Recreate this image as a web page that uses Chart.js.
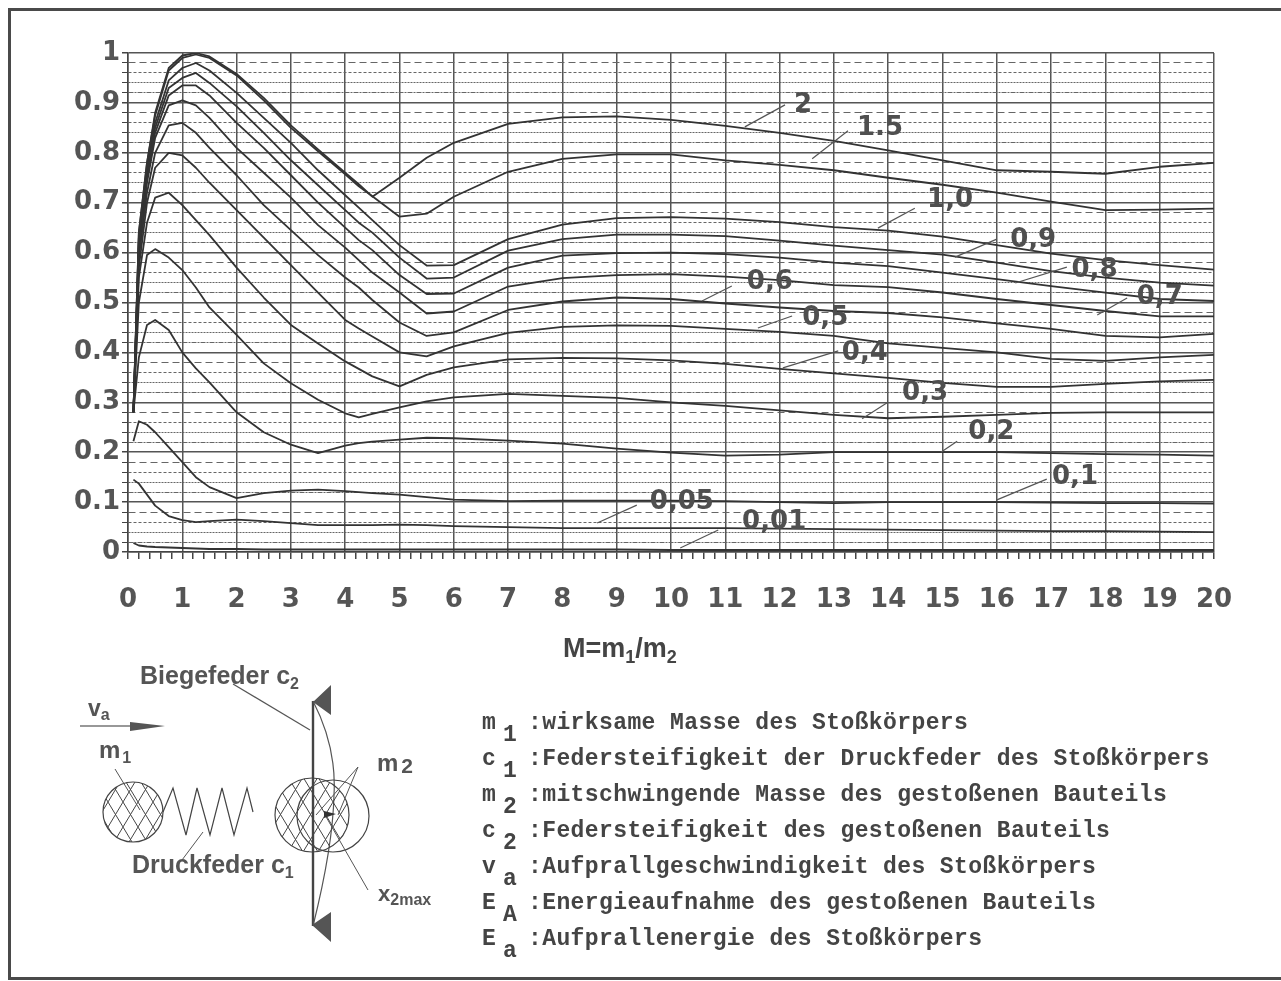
<!DOCTYPE html>
<html>
<head>
<meta charset="utf-8">
<script src="https://cdn.jsdelivr.net/npm/chart.js@4/dist/chart.umd.min.js"></script>
<style>
html, body { margin: 0; padding: 0; background: #fff; }
#page { position: relative; width: 1281px; height: 981px; overflow: hidden; }
#frame { position: absolute; left: 8px; top: 8px; width: 1290px; height: 972px; border: 3px solid #4a4a4a; box-sizing: border-box; }
#c { position: absolute; left: 0; top: 0; }
#sketch { position: absolute; left: 0; top: 0; }
#xtitle { position: absolute; left: 563px; top: 633px; font: bold 27px "Liberation Sans", Arial, sans-serif; color: #444; white-space: pre; }
#xtitle sub { font-size: 18px; vertical-align: -6px; line-height: 0; }
.row { position: absolute; font: bold 23px "Liberation Mono", monospace; letter-spacing: 0.4px; color: #444; white-space: pre; }
.row sub { position: absolute; left: 21px; top: 12px; font-size: 23px; }
.row span { position: absolute; left: 46px; top: 0; }
#sketch text { font-family: "Liberation Sans", Arial, sans-serif; font-weight: bold; fill: #555; }
</style>
</head>
<body>
<div id="page">
<canvas id="c" width="1281" height="981"></canvas>
<div id="frame"></div>
<div id="xtitle">M=m<sub>1</sub>/m<sub>2</sub></div>
<svg id="sketch" width="1281" height="981">
  <defs>
    <pattern id="hatch" width="15" height="25" patternUnits="userSpaceOnUse" x="3" y="2">
      <path d="M0 0L15 25M15 0L0 25" stroke="#444" stroke-width="1" fill="none"/>
    </pattern>
  </defs>
  <text x="140" y="684" font-size="25">Biegefeder c<tspan font-size="16" dy="5">2</tspan></text>
  <text x="88" y="716" font-size="23">v<tspan font-size="16" dy="4">a</tspan></text>
  <text x="99" y="758" font-size="24">m<tspan font-size="16" dy="5" dx="2">1</tspan></text>
  <text x="377" y="771" font-size="24">m<tspan font-size="21" dy="2" dx="3">2</tspan></text>
  <text x="132" y="873" font-size="25">Druckfeder c<tspan font-size="16" dy="5">1</tspan></text>
  <text x="378" y="901" font-size="22">x<tspan font-size="16" dy="4">2max</tspan></text>
  <path d="M80 726H135" stroke="#333" stroke-width="1.2"/>
  <path d="M130 722L165 726L130 731Z" fill="#555"/>
  <path d="M313 702L331 685V715Z M312 925L331 912V942Z" fill="#555"/>
  <path d="M313 701V926" stroke="#444" stroke-width="2.4" fill="none"/>
  <path d="M313 701C328 730 336 760 334 795C333 840 322 890 313 926" stroke="#555" stroke-width="1.2" fill="none"/>
  <path d="M233 684L310 730" stroke="#555" stroke-width="1.2" fill="none"/>
  <circle cx="133" cy="812" r="30" fill="url(#hatch)" stroke="#444" stroke-width="1.2"/>
  <circle cx="312" cy="815" r="37" fill="url(#hatch)" stroke="#444" stroke-width="1.2"/>
  <circle cx="333" cy="816" r="36" fill="none" stroke="#444" stroke-width="1.2"/>
  <path d="M163 812L173 788L186 835L197 788L210 835L222 788L234 835L247 788L253 812" stroke="#444" stroke-width="1.2" fill="none"/>
  <path d="M115 769L140 810M203 832L182 860" stroke="#555" stroke-width="1" fill="none"/>
  <path d="M358 767L316 815M358 767L338 815M325 815L368 890" stroke="#555" stroke-width="1" fill="none"/>
  <path d="M324 811L336 814L324 818Z" fill="#333"/>
</svg>
</div>
<script>
// mass ratio M on the x axis
const massRatio = [0.1, 0.2, 0.35, 0.5, 0.75, 1, 1.25, 1.5, 2, 2.5, 3, 3.5, 4, 4.25, 4.5, 5, 5.5, 6, 7, 8, 9, 10, 11, 12, 13, 14, 15, 16, 17, 18, 19, 20];

// one list per curve
const curve2    = [0.28, 0.64, 0.78, 0.88, 0.97, 0.995, 1.0, 0.993, 0.958, 0.91, 0.855, 0.807, 0.76, 0.737, 0.712, 0.75, 0.79, 0.82, 0.858, 0.871, 0.873, 0.866, 0.854, 0.84, 0.824, 0.805, 0.785, 0.765, 0.762, 0.758, 0.772, 0.78];
const curve1_5  = [0.28, 0.64, 0.78, 0.875, 0.965, 0.99, 0.997, 0.99, 0.955, 0.905, 0.85, 0.803, 0.757, 0.733, 0.713, 0.672, 0.678, 0.712, 0.762, 0.788, 0.797, 0.797, 0.785, 0.776, 0.765, 0.75, 0.736, 0.72, 0.702, 0.685, 0.686, 0.688];
const curve1_0  = [0.28, 0.63, 0.77, 0.86, 0.945, 0.97, 0.98, 0.965, 0.92, 0.87, 0.82, 0.765, 0.715, 0.69, 0.665, 0.615, 0.574, 0.575, 0.627, 0.656, 0.669, 0.671, 0.668, 0.661, 0.651, 0.644, 0.632, 0.615, 0.598, 0.585, 0.575, 0.566];
const curve0_9  = [0.28, 0.62, 0.76, 0.85, 0.93, 0.95, 0.96, 0.94, 0.893, 0.84, 0.785, 0.735, 0.685, 0.66, 0.64, 0.59, 0.548, 0.55, 0.604, 0.627, 0.636, 0.636, 0.633, 0.624, 0.614, 0.605, 0.596, 0.58, 0.563, 0.55, 0.54, 0.534];
const curve0_8  = [0.28, 0.61, 0.75, 0.84, 0.915, 0.935, 0.935, 0.915, 0.86, 0.81, 0.755, 0.70, 0.65, 0.625, 0.605, 0.555, 0.517, 0.518, 0.57, 0.594, 0.599, 0.60, 0.597, 0.59, 0.58, 0.573, 0.56, 0.547, 0.533, 0.52, 0.507, 0.503];
const curve0_7  = [0.28, 0.60, 0.74, 0.83, 0.895, 0.905, 0.895, 0.87, 0.81, 0.76, 0.71, 0.655, 0.61, 0.585, 0.56, 0.52, 0.478, 0.482, 0.532, 0.549, 0.555, 0.557, 0.552, 0.545, 0.535, 0.531, 0.52, 0.507, 0.495, 0.483, 0.472, 0.472];
const curve0_6  = [0.28, 0.59, 0.72, 0.80, 0.855, 0.86, 0.84, 0.81, 0.755, 0.695, 0.645, 0.595, 0.55, 0.53, 0.505, 0.46, 0.433, 0.44, 0.485, 0.502, 0.51, 0.507, 0.498, 0.49, 0.483, 0.479, 0.47, 0.458, 0.447, 0.433, 0.43, 0.437];
const curve0_5  = [0.28, 0.57, 0.70, 0.77, 0.80, 0.795, 0.77, 0.74, 0.685, 0.63, 0.575, 0.52, 0.465, 0.448, 0.432, 0.40, 0.392, 0.412, 0.439, 0.451, 0.454, 0.453, 0.447, 0.441, 0.433, 0.418, 0.409, 0.40, 0.387, 0.383, 0.39, 0.395];
const curve0_4  = [0.28, 0.55, 0.66, 0.71, 0.72, 0.695, 0.665, 0.635, 0.57, 0.51, 0.455, 0.418, 0.382, 0.367, 0.352, 0.332, 0.355, 0.37, 0.386, 0.389, 0.388, 0.384, 0.377, 0.367, 0.358, 0.349, 0.339, 0.331, 0.331, 0.337, 0.342, 0.345];
const curve0_3  = [0.28, 0.50, 0.595, 0.607, 0.59, 0.565, 0.53, 0.49, 0.435, 0.378, 0.338, 0.305, 0.278, 0.27, 0.277, 0.29, 0.302, 0.31, 0.317, 0.313, 0.309, 0.30, 0.293, 0.284, 0.275, 0.268, 0.271, 0.275, 0.279, 0.28, 0.28, 0.28];
const curve0_2  = [0.28, 0.39, 0.455, 0.465, 0.445, 0.40, 0.368, 0.34, 0.28, 0.24, 0.215, 0.198, 0.213, 0.218, 0.221, 0.225, 0.229, 0.228, 0.223, 0.217, 0.207, 0.199, 0.193, 0.195, 0.20, 0.20, 0.20, 0.20, 0.198, 0.196, 0.195, 0.193];
const curve0_1  = [0.222, 0.262, 0.255, 0.24, 0.21, 0.18, 0.15, 0.13, 0.108, 0.118, 0.123, 0.125, 0.122, 0.12, 0.118, 0.115, 0.11, 0.105, 0.102, 0.103, 0.103, 0.103, 0.102, 0.10, 0.098, 0.10, 0.10, 0.10, 0.099, 0.098, 0.098, 0.097];
const curve0_05 = [0.145, 0.137, 0.115, 0.093, 0.072, 0.064, 0.06, 0.062, 0.065, 0.062, 0.058, 0.054, 0.054, 0.054, 0.054, 0.055, 0.054, 0.052, 0.05, 0.048, 0.048, 0.048, 0.048, 0.047, 0.046, 0.045, 0.044, 0.043, 0.042, 0.042, 0.041, 0.04];
const curve0_01 = [0.018, 0.013, 0.011, 0.01, 0.009, 0.008, 0.007, 0.006, 0.006, 0.005, 0.005, 0.005, 0.005, 0.005, 0.005, 0.005, 0.005, 0.005, 0.005, 0.005, 0.005, 0.004, 0.004, 0.004, 0.004, 0.004, 0.004, 0.004, 0.004, 0.004, 0.004, 0.004];

const allCurves = [curve2, curve1_5, curve1_0, curve0_9, curve0_8, curve0_7, curve0_6, curve0_5, curve0_4, curve0_3, curve0_2, curve0_1, curve0_05, curve0_01];

// [text, label x, label y, leader from x, y, leader to x, y] in axis units
const curveNotes = [
  ['2',    12.43, 0.896, 12.1, 0.896, 11.36, 0.852],
  ['1.5',  13.85, 0.85, 13.26, 0.844, 12.6, 0.788],
  ['1,0',  15.14, 0.705, 14.49, 0.689, 13.81, 0.649],
  ['0,9',  16.67, 0.625, 16.0, 0.627, 15.23, 0.591],
  ['0,8',  17.8, 0.565, 17.29, 0.571, 16.34, 0.539],
  ['0,7',  19.0, 0.511, 18.4, 0.509, 17.85, 0.475],
  ['0,6',  11.82, 0.54, 11.12, 0.533, 10.57, 0.503],
  ['0,5',  12.84, 0.469, 12.23, 0.473, 11.6, 0.449],
  ['0,4',  13.57, 0.399, 13.08, 0.403, 12.06, 0.369],
  ['0,3',  14.68, 0.319, 13.98, 0.299, 13.52, 0.267],
  ['0,2',  15.9, 0.24, 15.27, 0.222, 14.97, 0.2],
  ['0,1',  17.44, 0.15, 16.92, 0.146, 15.99, 0.104],
  ['0,05', 10.2, 0.10, 9.37, 0.094, 8.64, 0.058],
  ['0,01', 11.9, 0.06, 10.87, 0.044, 10.17, 0.008]
];

const legendRows = [
  ['m', '1', ':wirksame Masse des Stoßkörpers'],
  ['c', '1', ':Federsteifigkeit der Druckfeder des Stoßkörpers'],
  ['m', '2', ':mitschwingende Masse des gestoßenen Bauteils'],
  ['c', '2', ':Federsteifigkeit des gestoßenen Bauteils'],
  ['v', 'a', ':Aufprallgeschwindigkeit des Stoßkörpers'],
  ['E', 'A', ':Energieaufnahme des gestoßenen Bauteils'],
  ['E', 'a', ':Aufprallenergie des Stoßkörpers']
];

const page = document.getElementById('page');
legendRows.forEach((r, i) => {
  const d = document.createElement('div');
  d.className = 'row';
  d.style.left = '482px';
  d.style.top = (710 + i * 36) + 'px';
  d.innerHTML = r[0] + '<sub>' + r[1] + '</sub><span>' + r[2] + '</span>';
  page.appendChild(d);
});

// leader lines and curve names
const notesPlugin = {
  id: 'notes',
  afterDatasetsDraw(chart) {
    const { ctx, scales: { x, y } } = chart;
    ctx.save();
    ctx.font = 'bold 26px "DejaVu Sans"';
    ctx.fillStyle = '#4f4f4f';
    ctx.textAlign = 'center';
    ctx.textBaseline = 'middle';
    curveNotes.forEach(n => {
      ctx.strokeStyle = '#555';
      ctx.lineWidth = 1.2;
      ctx.beginPath();
      ctx.moveTo(x.getPixelForValue(n[3]), y.getPixelForValue(n[4]));
      ctx.lineTo(x.getPixelForValue(n[5]), y.getPixelForValue(n[6]));
      ctx.stroke();
      ctx.fillText(n[0], x.getPixelForValue(n[1]), y.getPixelForValue(n[2]));
    });
    ctx.restore();
  }
};

const dashFor = (v) => {
  const k = Math.round(v * 100) % 10;
  if (k === 8) return [7, 4];
  if (k === 6) return [3, 2];
  if (k === 4) return [2, 1];
  if (k === 2) return [5, 1, 2, 1];
  return [];
};

new Chart(document.getElementById('c'), {
  type: 'line',
  data: {
    datasets: allCurves.map((vals) => ({
      data: vals.map((v, j) => ({ x: massRatio[j], y: v })),
      borderColor: '#333',
      borderWidth: 1.8,
      pointRadius: 0,
      tension: 0,
      borderJoinStyle: 'round',
      fill: false
    }))
  },
  plugins: [notesPlugin],
  options: {
    responsive: false,
    animation: false,
    parsing: false,
    layout: { padding: { left: 0, right: 67, top: 53, bottom: 311 } },
    plugins: { legend: { display: false }, tooltip: { enabled: false } },
    scales: {
      x: {
        type: 'linear',
        min: 0,
        max: 20,
        afterBuildTicks(axis) {
          axis.ticks = [];
          for (let i = 0; i <= 100; i++) axis.ticks.push({ value: i / 5 });
        },
        afterFit(axis) { axis.height = 118; },
        ticks: {
          autoSkip: false,
          maxRotation: 0,
          padding: 26,
          color: '#555',
          font: { family: 'DejaVu Sans', weight: 'bold', size: 26 },
          callback: (v) => (Math.abs(v - Math.round(v)) < 1e-6 ? String(Math.round(v)) : '')
        },
        grid: {
          color: (c) => (c.tick && Math.abs(c.tick.value - Math.round(c.tick.value)) < 1e-6 ? '#555' : 'rgba(0,0,0,0)'),
          tickColor: '#444',
          lineWidth: 1.5,
          tickLength: 7
        },
        border: { color: '#444', width: 1.5 }
      },
      y: {
        min: 0,
        max: 1,
        afterBuildTicks(axis) {
          axis.ticks = [];
          for (let i = 0; i <= 50; i++) axis.ticks.push({ value: i / 50 });
        },
        afterFit(axis) { axis.width = 128; },
        ticks: {
          autoSkip: false,
          padding: 2,
          color: '#555',
          font: { family: 'DejaVu Sans', weight: 'bold', size: 26 },
          callback: (v) => {
            const k = Math.round(v * 100);
            if (k % 10 !== 0) return '';
            return k === 100 ? '1' : k === 0 ? '0' : (k / 100).toFixed(1);
          }
        },
        grid: {
          color: (c) => (c.tick && Math.round(c.tick.value * 100) % 10 === 0 ? '#555' : '#666'),
          lineWidth: (c) => (c.tick && Math.round(c.tick.value * 100) % 10 === 0 ? 1.5 : 1),
          tickColor: '#444',
          tickLength: 6
        },
        border: {
          color: '#444',
          width: 1.5,
          dash: (c) => (c.tick ? dashFor(c.tick.value) : [])
        }
      }
    }
  }
});
</script>
</body>
</html>
